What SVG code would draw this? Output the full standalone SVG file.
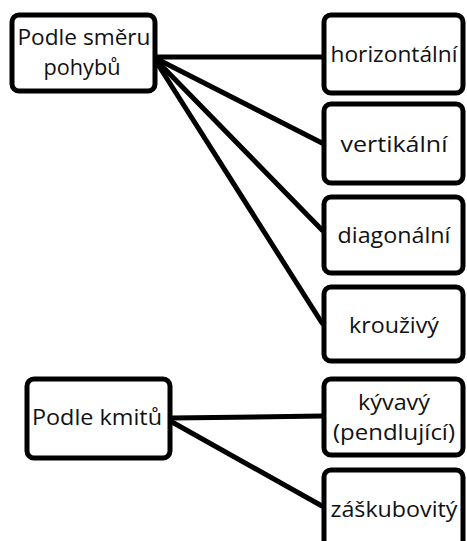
<svg xmlns="http://www.w3.org/2000/svg" width="467" height="541" viewBox="0 0 467 541">
<style>
.box{fill:#fff;stroke:#000;stroke-width:5}
.t{font-family:"Open Sans","Liberation Sans",sans-serif;font-size:22px;font-weight:500;fill:#111;text-anchor:middle}
.c{stroke:#000;stroke-width:5;fill:none;stroke-linecap:round}
</style>
<rect width="467" height="541" fill="#fff"/>
<g id="connectors">
<line class="c" x1="157" y1="57" x2="322" y2="57"/>
<line class="c" x1="157" y1="59" x2="322" y2="143"/>
<line class="c" x1="157" y1="61" x2="322" y2="230"/>
<line class="c" x1="157" y1="63" x2="322" y2="323"/>
<line class="c" x1="172" y1="418" x2="322" y2="416"/>
<line class="c" x1="172" y1="422" x2="322" y2="506"/>
</g>
<g id="n-smer">
<rect class="box" x="12" y="15" width="143" height="76" rx="7"/>
<text class="t" x="84" y="45" textLength="133" lengthAdjust="spacingAndGlyphs">Podle směru</text>
<text class="t" x="82" y="75" textLength="77" lengthAdjust="spacingAndGlyphs">pohybů</text>
</g>
<g id="n-horiz">
<rect class="box" x="324" y="15" width="139" height="78" rx="7"/>
<text class="t" x="394" y="62" textLength="127" lengthAdjust="spacingAndGlyphs">horizontální</text>
</g>
<g id="n-vert">
<rect class="box" x="324" y="104" width="139" height="79" rx="7"/>
<text class="t" x="394" y="152" textLength="107" lengthAdjust="spacingAndGlyphs">vertikální</text>
</g>
<g id="n-diag">
<rect class="box" x="324" y="197" width="139" height="76" rx="7"/>
<text class="t" x="394" y="243" textLength="113" lengthAdjust="spacingAndGlyphs">diagonální</text>
</g>
<g id="n-krouz">
<rect class="box" x="324" y="287" width="139" height="74" rx="7"/>
<text class="t" x="394" y="333" textLength="90" lengthAdjust="spacingAndGlyphs">krouživý</text>
</g>
<g id="n-kmity">
<rect class="box" x="27" y="379" width="143" height="79" rx="7"/>
<text class="t" x="97" y="425" textLength="130" lengthAdjust="spacingAndGlyphs">Podle kmitů</text>
</g>
<g id="n-kyv">
<rect class="box" x="324" y="379" width="139" height="76" rx="7"/>
<text class="t" x="394" y="410" textLength="72" lengthAdjust="spacingAndGlyphs">kývavý</text>
<text class="t" x="394" y="440" textLength="122" lengthAdjust="spacingAndGlyphs">(pendlující)</text>
</g>
<g id="n-zask">
<rect class="box" x="324" y="470" width="139" height="90" rx="7"/>
<text class="t" x="394" y="517" textLength="127" lengthAdjust="spacingAndGlyphs">záškubovitý</text>
</g>
</svg>
